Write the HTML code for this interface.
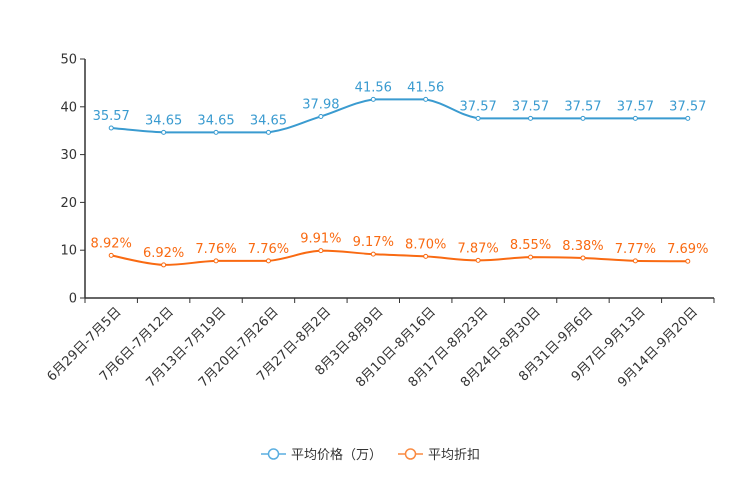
<!DOCTYPE html>
<html><head><meta charset="utf-8"><style>
body{margin:0;background:#fff;}
svg{display:block;font-family:"DejaVu Sans","Noto Sans CJK SC",sans-serif;}
</style></head><body>
<svg id="c" width="744" height="496"></svg>
<script>
const categories=["6月29日-7月5日","7月6日-7月12日","7月13日-7月19日","7月20日-7月26日","7月27日-8月2日","8月3日-8月9日","8月10日-8月16日","8月17日-8月23日","8月24日-8月30日","8月31日-9月6日","9月7日-9月13日","9月14日-9月20日"];
const priceValues=[35.57,34.65,34.65,34.65,37.98,41.56,41.56,37.57,37.57,37.57,37.57,37.57];
const discountValues=[8.92,6.92,7.76,7.76,9.91,9.17,8.70,7.87,8.55,8.38,7.77,7.69];
const yTicks=[0,10,20,30,40,50];
const NS="http://www.w3.org/2000/svg";
const svg=document.getElementById('c');
const X0=85,X1=714,Y0=298,Y1=59,YMAX=50;
const bw=(X1-X0)/categories.length;
const xs=i=>X0+bw*(i+0.5);
const ys=v=>Y0-(v/YMAX)*(Y0-Y1);
function el(t,a,p){const e=document.createElementNS(NS,t);for(const k in a)e.setAttribute(k,a[k]);(p||svg).appendChild(e);return e;}
const yAxis=el('line',{x1:X0,y1:Y1,x2:X0,y2:Y0,stroke:'#333','stroke-width':1.5});


yTicks.forEach(t=>{
 const y=ys(t);
 const tk=el('line',{x1:X0-5,y1:y,x2:X0,y2:y,stroke:'#333'});
 
 
 const tx=el('text',{x:X0-8,y:y+4.5,'text-anchor':'end','font-size':13,fill:'#333'});
 tx.textContent=t;
 
 
});
const xAxis=el('line',{x1:X0,y1:Y0,x2:X1,y2:Y0,stroke:'#333','stroke-width':1.5});


for(let i=0;i<=categories.length;i++){
 const x=X0+bw*i;
 const tk=el('line',{x1:x,y1:Y0,x2:x,y2:Y0+5,stroke:'#333'});
 
 
}
categories.forEach((c,i)=>{
 const x=xs(i)+4,y=Y0+8;
 const tx=el('text',{x:x,y:y,'text-anchor':'end','font-size':13,fill:'#333',transform:`rotate(-45 ${x} ${y})`,dy:'0.7em'});
 tx.textContent=c;
 
 
});
function clamp(v,a,b){const lo=Math.min(a,b),hi=Math.max(a,b);return Math.max(lo,Math.min(hi,v));}
function smoothPath(pts){
 let d=`M${pts[0][0]},${pts[0][1]}`;
 for(let i=0;i<pts.length-1;i++){
  const p0=pts[i-1]||pts[i],p1=pts[i],p2=pts[i+1],p3=pts[i+2]||p2;
  const t=0.2;
  const c1=[p1[0]+(p2[0]-p0[0])*t,clamp(p1[1]+(p2[1]-p0[1])*t,p1[1],p2[1])];
  const c2=[p2[0]-(p3[0]-p1[0])*t,clamp(p2[1]-(p3[1]-p1[1])*t,p1[1],p2[1])];
  d+=`C${c1[0]},${c1[1]} ${c2[0]},${c2[1]} ${p2[0]},${p2[1]}`;
 }
 return d;
}
function series(vals,color,name,fmt){
 const g=el('g',{});
 
 
 const pts=vals.map((v,i)=>[xs(i),ys(v)]);
 const p=el('path',{d:smoothPath(pts),fill:'none',stroke:color,'stroke-width':2},g);
 
 
 vals.forEach((v,i)=>{
  const c=el('circle',{cx:xs(i),cy:ys(v),r:2,fill:'#fff',stroke:color,'stroke-width':1},g);
  
  
  const t=el('text',{x:xs(i),y:ys(v)-8,'text-anchor':'middle','font-size':13,fill:color},g);
  t.textContent=fmt(v);
  
  
 });
}
series(priceValues,'#3a9bd0','price',v=>v.toFixed(2));
series(discountValues,'#f96a12','discount',v=>v.toFixed(2)+'%');
function legend(x,color,label){
 const g=el('g',{});
 
 
 el('line',{x1:x,y1:454,x2:x+25,y2:454,stroke:color,'stroke-width':1.5},g);
 el('circle',{cx:x+12.5,cy:454,r:5,fill:'#fff',stroke:color,'stroke-width':1.5},g);
 const t=el('text',{x:x+30,y:459,'font-size':13,fill:'#333'},g);
 t.textContent=label;
}
legend(261,'#5aaee0','平均价格（万）');
legend(398,'#fa8a40','平均折扣');
</script>
</body></html>
